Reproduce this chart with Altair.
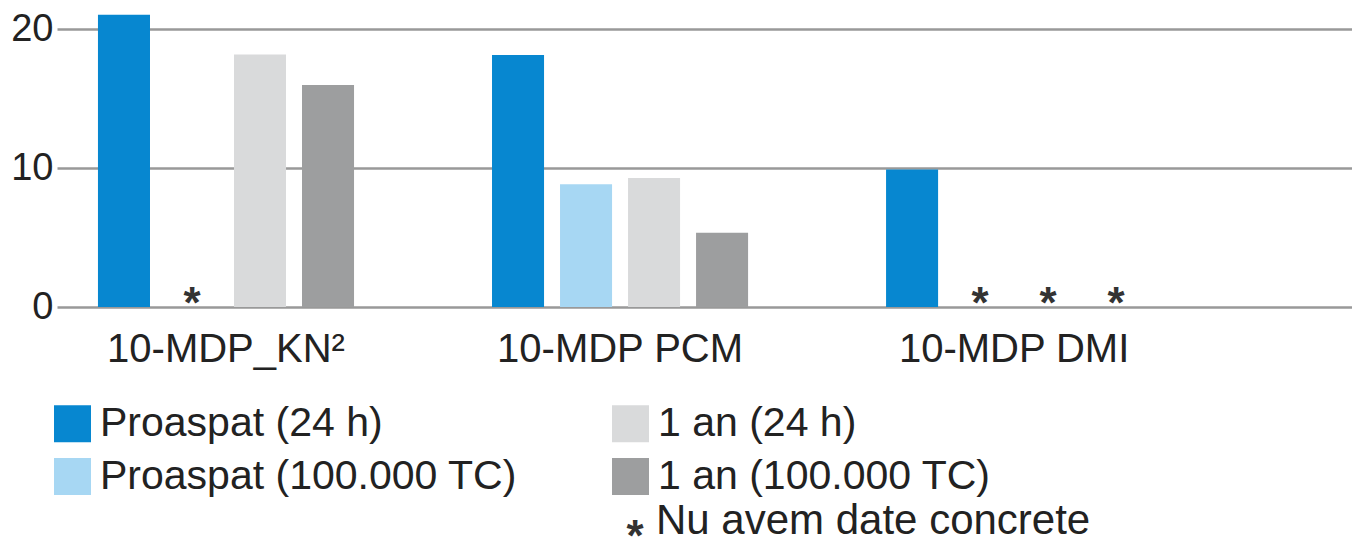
import altair as alt
import pandas as pd

categories = ["10-MDP_KN²", "10-MDP PCM", "10-MDP DMI"]
series = ["Proaspat (24 h)", "Proaspat (100.000 TC)", "1 an (24 h)", "1 an (100.000 TC)"]
proaspat_24h = [21.05, 18.15, 9.9]
proaspat_100k = [None, 8.85, None]
an1_24h = [18.2, 9.3, None]
an1_100k = [16.0, 5.35, None]
colors = ["#0787d0", "#a7d7f3", "#d9dadb", "#9d9e9f"]
y_ticks = [0, 10, 20]
note_star = "*"
note_text = "Nu avem date concrete"

rows = []
for s, vals in zip(series, [proaspat_24h, proaspat_100k, an1_24h, an1_100k]):
    for c, v in zip(categories, vals):
        rows.append({"cat": c, "series": s, "value": v,
                     "missing": "*" if v is None else "", "zero": 0})
df = pd.DataFrame(rows)

FONT = "Liberation Sans"
TXT = "#222222"

x_enc = alt.X("cat:N", sort=categories,
              scale=alt.Scale(paddingInner=0.3096, paddingOuter=0.298, align=0.1404),
              axis=alt.Axis(title=None, labelAngle=0, labelFontSize=40, labelPadding=22,
                            ticks=False, domain=False, labelLimit=1000, labelColor=TXT,
                            labelFont=FONT))
xoff_enc = alt.XOffset("series:N", sort=series,
                       scale=alt.Scale(paddingInner=0.235, paddingOuter=0.1175))

y_scale = alt.Scale(domain=[0, 21.4], nice=False, zero=True)
y_axis = alt.Axis(title=None, values=y_ticks, labelFontSize=38, labelPadding=4,
                  ticks=False, domain=False, grid=True, gridColor="#999999",
                  gridWidth=2.5, labelColor=TXT, labelFont=FONT)

bars = alt.Chart(df).mark_bar().encode(
    x=x_enc,
    xOffset=xoff_enc,
    y=alt.Y("value:Q", scale=y_scale, axis=y_axis),
    color=alt.Color("series:N",
                    scale=alt.Scale(domain=series, range=colors),
                    legend=alt.Legend(title=None, orient="none", legendX=-5, legendY=393,
                                      columns=2, symbolType="square", symbolSize=1369,
                                      symbolStrokeWidth=0, symbolOpacity=1,
                                      labelFontSize=41, labelOffset=7, labelLimit=1000,
                                      rowPadding=11, columnPadding=92,
                                      labelColor=TXT, labelFont=FONT)),
)

stars = alt.Chart(df).transform_filter(alt.datum.missing == "*").mark_text(
    fontSize=44, fontWeight="bold", color="#333333", baseline="alphabetic", dy=11,
    font=FONT
).encode(
    x=x_enc,
    xOffset=xoff_enc,
    y=alt.Y("zero:Q", scale=y_scale, axis=y_axis),
    text="missing:N",
)

note_df = pd.DataFrame({"star": [note_star], "text": [note_text]})
note_star_layer = alt.Chart(note_df).mark_text(
    fontSize=44, fontWeight="bold", color="#333333", baseline="alphabetic", align="center",
    font=FONT
).encode(x=alt.value(578), y=alt.value(541), text="star:N")
note_text_layer = alt.Chart(note_df).mark_text(
    fontSize=42, color=TXT, baseline="alphabetic", align="left", font=FONT
).encode(x=alt.value(599), y=alt.value(524), text="text:N")

chart = alt.layer(bars, stars, note_star_layer, note_text_layer).properties(
    width=1295, height=297,
    autosize=alt.AutoSizeParams(type="none"),
    padding={"left": 49, "top": 2, "right": 0, "bottom": 232},
).configure(font=FONT).configure_view(stroke=None)

chart.save("out.html", embed_options={"renderer": "svg", "actions": False})
